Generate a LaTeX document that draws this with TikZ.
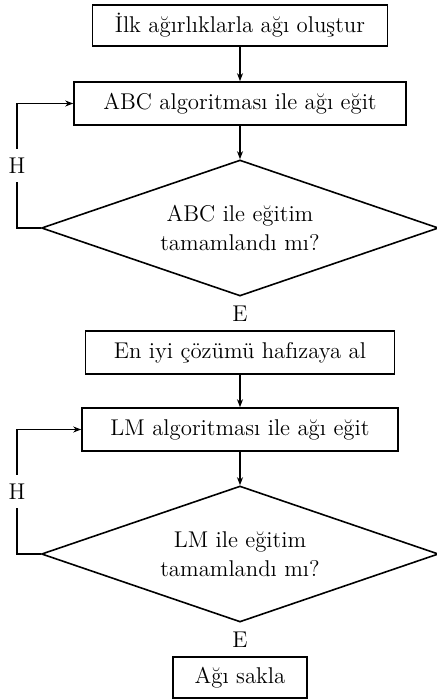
\documentclass[tikz,border=0pt]{standalone}
\usepackage{fontspec}
\usetikzlibrary{shapes.geometric,arrows.meta}
\begin{document}
\begin{tikzpicture}[x=0.5pt,y=-0.5pt,
  every node/.style={font=\fontsize{11.4}{14.5}\selectfont},
  box/.style={draw,thick,rectangle,inner sep=0pt,minimum height=21.5pt},
  decision/.style={draw,thick,diamond,aspect=2.92,inner sep=0pt,minimum width=198.5pt,minimum height=68pt,align=center},
  lab/.style={fill=white,inner xsep=1pt,inner ysep=4.4pt},
  flow/.style={thick,-{Stealth[length=4pt,width=3pt]}},
  plain/.style={thick}]
\useasboundingbox (0,0) rectangle (437,700);
\node[box,minimum width=147.5pt,minimum height=20.5pt] (b1) at (240,25.5) {İlk ağırlıklarla ağı oluştur};
\node[box,minimum width=166pt] (b2) at (240,103.5) {ABC algoritması ile ağı eğit};
\node[decision] (d1) at (240,228) {ABC ile eğitim\\tamamlandı mı?};
\node[box,minimum width=154.5pt] (b3) at (240,352.5) {En iyi çözümü hafızaya al};
\node[box,minimum width=158pt] (b4) at (240,429.5) {LM algoritması ile ağı eğit};
\node[decision] (d2) at (240,554) {LM ile eğitim\\tamamlandı mı?};
\node[box,minimum width=67pt,minimum height=20.5pt] (b5) at (240,677.5) {Ağı sakla};
\coordinate (l1) at (17,228);
\coordinate (l2) at (17,554);
\draw[flow] (b1) -- (b2);
\draw[flow] (b2) -- (d1);
\draw[flow] (d1.west) -- (l1) -- node[lab,pos=0.5] {H} (l1 |- b2) -- (b2.west);
\draw[flow] (d1.south) -- node[lab] {E} (b3.north);
\draw[flow] (b3) -- (b4);
\draw[flow] (b4) -- (d2);
\draw[flow] (d2.west) -- (l2) -- node[lab,pos=0.5] {H} (l2 |- b4) -- (b4.west);
\draw[flow] (d2.south) -- node[lab] {E} (b5.north);
\end{tikzpicture}
\end{document}
